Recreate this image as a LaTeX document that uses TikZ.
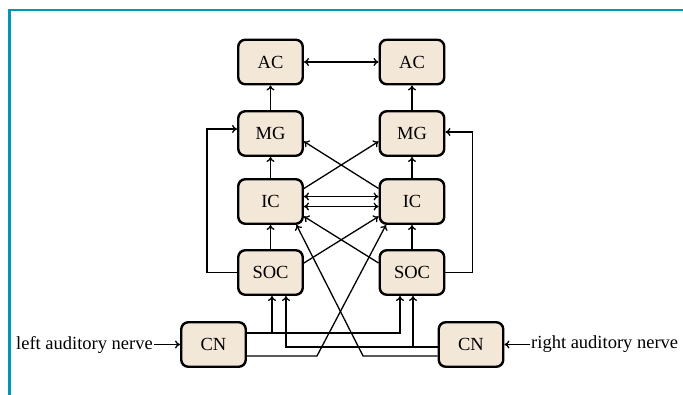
\documentclass[tikz,border=0pt]{standalone}
\usepackage{fontspec}
\setmainfont{Liberation Serif}
\usetikzlibrary{arrows.meta}
\definecolor{boxfill}{RGB}{243,231,215}
\definecolor{frameblue}{RGB}{0,150,182}
\begin{document}
\begin{tikzpicture}[x=1pt,y=1pt, >={To[length=5pt,width=8pt]},
    nucleus/.style={draw, line width=2.4pt, rounded corners=7pt, fill=boxfill,
      minimum width=64.5pt, minimum height=44.5pt, inner sep=0pt,
      font=\fontsize{18.5}{22}\selectfont},
    tract/.style={line width=1.3pt},
    nerve/.style={inner sep=1pt, font=\fontsize{18.5}{22}\selectfont}]
  \useasboundingbox (0,0) rectangle (683,395);
  \draw[frameblue, line width=2.4pt] (683,385) -- (9.5,385) -- (9.5,0);

  % the two sides
  \node[nucleus] (acl) at (270.5,333) {AC};
  \node[nucleus] (acr) at (412,333) {AC};
  \node[nucleus] (mgl) at (270.5,261.5) {MG};
  \node[nucleus] (mgr) at (412,261.5) {MG};
  \node[nucleus] (icl) at (270.5,193.5) {IC};
  \node[nucleus] (icr) at (412,193.5) {IC};
  \node[nucleus] (socl) at (270.5,122.5) {SOC};
  \node[nucleus] (socr) at (412,122.5) {SOC};
  \node[nucleus] (cnl) at (213.5,50.5) {CN};
  \node[nucleus] (cnr) at (471,50.5) {CN};

  \node[nerve, anchor=east] (lnerve) at (154,50.5) {left auditory nerve};
  \node[nerve, anchor=west] (rnerve) at (530,50.5) {right auditory nerve};
  \draw[tract,->] (lnerve) -- (cnl);
  \draw[tract,->] (rnerve) -- (cnr);

  % straight up
  \foreach \s in {l,r} {
    \draw[tract,->] (mg\s) -- (ac\s);
    \draw[tract,->] (ic\s) -- (mg\s);
    \draw[tract,->] (soc\s) -- (ic\s);
  }
  \draw[tract,<->] (acl) -- (acr);
  \draw[tract,<->] ([yshift=5pt]icl.east) -- ([yshift=5pt]icr.west);
  \draw[tract,<->] ([yshift=-5pt]icl.east) -- ([yshift=-5pt]icr.west);

  % crossings
  \draw[tract,->] ([yshift=13pt]icl.east) -- ([yshift=-8pt]mgr.west);
  \draw[tract,->] ([yshift=13pt]icr.west) -- ([yshift=-8pt]mgl.east);
  \draw[tract,->] ([yshift=9.5pt]socl.east) -- ([yshift=-15pt]icr.west);
  \draw[tract,->] ([yshift=9.5pt]socr.west) -- ([yshift=-15pt]icl.east);

  % SOC to MG round the outside
  \draw[tract,->] (socl.west) -- ++(-30,0) |- ([yshift=4.5pt]mgl.west);
  \draw[tract,->] (socr.east) -- ++(27,0) |- ([yshift=1.5pt]mgr.east);

  % CN outputs
  \coordinate (lhi) at ([yshift=11.5pt]cnl.east);
  \coordinate (llo) at ([yshift=-11.5pt]cnl.east);
  \coordinate (rhi) at ([yshift=-2.5pt]cnr.west);
  \coordinate (rlo) at ([yshift=-11.5pt]cnr.west);
  \coordinate (sl1) at ([xshift=1.5pt]socl.south);
  \coordinate (sl2) at ([xshift=15.5pt]socl.south);
  \coordinate (sr1) at ([xshift=-12pt]socr.south);
  \coordinate (sr2) at ([xshift=1pt]socr.south);
  \draw[tract,->] (lhi) -| (sr1);
  \draw[tract,->] (sl1 |- lhi) -- (sl1);
  \draw[tract,->] (rhi) -| (sl2);
  \draw[tract,->] (sr2 |- rhi) -- (sr2);
  \draw[tract,->] (llo) -- ++(70,0) -- ([xshift=-26pt]icr.south);
  \draw[tract,->] (rlo) -- ++(-74.5,0) -- ([xshift=26pt]icl.south);
\end{tikzpicture}
\end{document}
